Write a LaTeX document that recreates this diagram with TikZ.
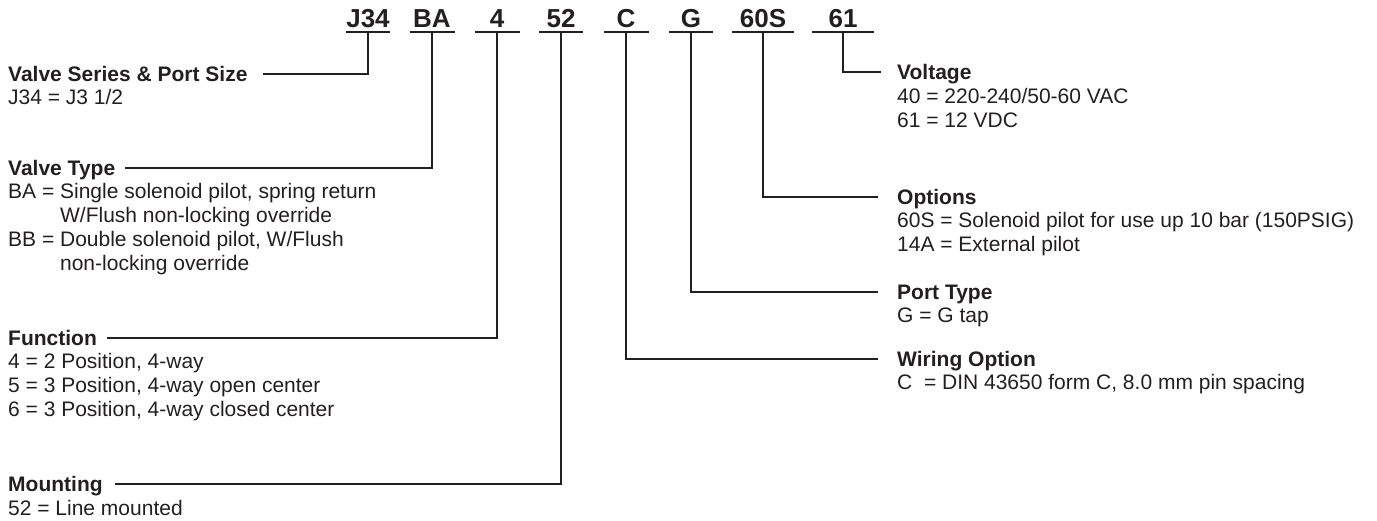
\documentclass[tikz,border=0pt]{standalone}
\usepackage{fontspec}
\setmainfont{Liberation Sans}
\usetikzlibrary{calc}
\definecolor{ink}{HTML}{231F20}
\begin{document}
\begin{tikzpicture}[x=1pt,y=-1pt,
  every node/.style={inner sep=0pt, text=ink},
  code/.style={font=\fontsize{26}{30}\selectfont\bfseries, anchor=base},
  title/.style={font=\fontsize{21}{24}\selectfont\bfseries, text height=15pt, text depth=0pt},
  ltitle/.style={title, anchor=base west},
  item/.style={font=\fontsize{21}{24}\selectfont, anchor=base west},
  uline/.style={draw=ink, line width=1.3pt},
  conn/.style={draw=ink, line width=1.1pt}]
\useasboundingbox (0,0) rectangle (1377,521);

% ---- code row ----
\foreach \nm/\cx/\hw in {J34/368/22, BA/432/22.5, 4/497/22.5, 52/561/22, C/626/22.5, G/691/22, 60S/763/31, 61/843/31}{
  \node[code] (c\nm) at (\cx,28) {\nm};
  \coordinate (u\nm) at (\cx,32);
  \draw[uline] ([xshift=-\hw pt]u\nm) -- ([xshift=\hw pt]u\nm);
}

% ---- left descriptions ----
\node[ltitle] (tVS) at (8,81.5) {Valve Series \& Port Size};
\node[item] (iVS1) at (8,105) {J34 = J3 1/2};

\node[ltitle] (tVT) at (8,175.5) {Valve Type};
\node[item] (iVT1) at (8,199) {BA = Single solenoid pilot, spring return};
\node[item] (iVT2) at (8,223) {\hphantom{BA = }W/Flush non-locking override};
\node[item] (iVT3) at (8,247) {BB = Double solenoid pilot, W/Flush};
\node[item] (iVT4) at (8,271) {\hphantom{BB = }non-locking override};

\node[ltitle] (tF) at (8,345.5) {Function};
\node[item] (iF1) at (8,369) {4 = 2 Position, 4-way};
\node[item] (iF2) at (8,393) {5 = 3 Position, 4-way open center};
\node[item] (iF3) at (8,417) {6 = 3 Position, 4-way closed center};

\node[ltitle] (tM) at (8,491.5) {Mounting};
\node[item] (iM1) at (8,515) {52 = Line mounted};

% ---- right descriptions ----
\node[ltitle] (tV) at (897,79.5) {Voltage};
\node[item] (iV1) at (897,104) {40 = 220-240/50-60 VAC};
\node[item] (iV2) at (897,128) {61 = 12 VDC};

\node[ltitle] (tO) at (897,204.5) {Options};
\node[item] (iO1) at (897,228) {60S = Solenoid pilot for use up 10 bar (150PSIG)};
\node[item] (iO2) at (897,252) {14A = External pilot};

\node[ltitle] (tP) at (897,299.5) {Port Type};
\node[item] (iP1) at (897,323) {G = G tap};

\node[ltitle] (tW) at (897,366.5) {Wiring Option};
\node[item] (iW1) at (897,390) {C\ \ = DIN 43650 form C, 8.0 mm pin spacing};

% ---- connectors ----
\draw[conn] (uJ34) |- ($(tVS.east)+(15,0)$);
\draw[conn] (uBA)  |- ($(tVT.east)+(10,0)$);
\draw[conn] (u4)   |- ($(tF.east)+(10,0)$);
\draw[conn] (u52)  |- ($(tM.east)+(12,0)$);
\draw[conn] (uC)   |- ($(tW.west)+(-19,0)$);
\draw[conn] (uG)   |- ($(tP.west)+(-19,0)$);
\draw[conn] (u60S) |- ($(tO.west)+(-19,0)$);
\draw[conn] (u61)  |- ($(tV.west)+(-16,0)$);
\end{tikzpicture}
\end{document}
